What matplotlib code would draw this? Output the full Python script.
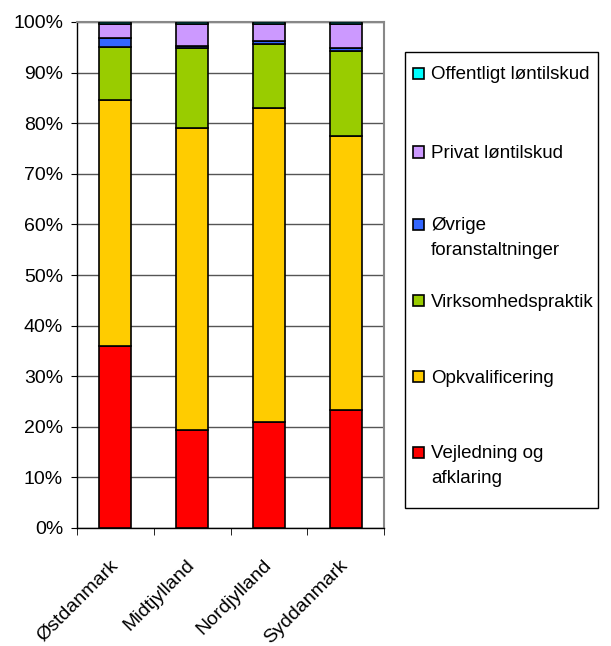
import matplotlib
matplotlib.use("Agg")
import matplotlib.pyplot as plt
from matplotlib.patches import Rectangle
import matplotlib.transforms as mtransforms
import numpy as np

plt.rcParams['font.family'] = ['Liberation Sans', 'DejaVu Sans']

regions = ["Østdanmark", "Midtjylland", "Nordjylland", "Syddanmark"]
series = ["Vejledning og\nafklaring", "Opkvalificering", "Virksomhedspraktik",
          "Øvrige\nforanstaltninger", "Privat løntilskud", "Offentligt løntilskud"]
vejledning = [36.0, 19.4, 20.9, 23.3]
opkvalificering = [48.6, 59.6, 62.1, 54.2]
virksomhedspraktik = [10.5, 15.8, 12.6, 16.8]
ovrige = [1.7, 0.5, 0.7, 0.6]
privat = [2.8, 4.3, 3.3, 4.7]
offentligt = [0.4, 0.4, 0.4, 0.4]
colors = ["#FF0000", "#FFCC00", "#99CC00", "#3366FF", "#CC99FF", "#00FFFF"]

values = [vejledning, opkvalificering, virksomhedspraktik, ovrige, privat, offentligt]

W, H = 611, 646
fig = plt.figure(figsize=(W/100, H/100), dpi=100)
ax = fig.add_axes([77/W, 1-528/H, (384-77)/W, (528-22)/H])

x = np.arange(len(regions))
bottom = np.zeros(len(regions))
for vals, col, lab in zip(values, colors, series):
    ax.bar(x, vals, bottom=bottom, width=0.42, color=col, edgecolor='black',
           linewidth=1.2, label=lab, zorder=3)
    bottom += np.array(vals)

ax.set_xlim(-0.5, 3.5)
ax.set_ylim(0, 100)
ax.set_yticks(np.arange(0, 101, 10))
ax.set_yticklabels([f"{v}%" for v in range(0, 101, 10)], fontsize=14)
ax.yaxis.grid(True, color='#555555', linewidth=1.0, zorder=0)
ax.set_axisbelow(True)

ax.set_xticks(x)
ax.set_xticklabels(regions, rotation=45, ha='right', va='top', rotation_mode='anchor', fontsize=14)
ax.tick_params(axis='x', which='major', length=0, pad=12)
offset = mtransforms.ScaledTranslation(-6/100, -12/100, fig.dpi_scale_trans)
for lbl in ax.get_xticklabels():
    lbl.set_transform(lbl.get_transform() + offset)
ax.set_xticks(np.arange(-0.5, 4, 1), minor=True)
ax.tick_params(axis='x', which='minor', length=5, direction='out', color='black')
ax.tick_params(axis='y', length=4, direction='out', color='black', pad=6)

for s in ['top', 'right']:
    ax.spines[s].set_color('#888888')
    ax.spines[s].set_linewidth(1.5)
for s in ['left', 'bottom']:
    ax.spines[s].set_color('black')
    ax.spines[s].set_linewidth(1.0)

# Legend (drawn in figure pixel coordinates, top entry first)
def fx(px):
    return px / W

def fy(py):
    return 1 - py / H

fig.patches.append(Rectangle((fx(405), fy(508)), fx(598) - fx(405), fy(52) - fy(508),
                             transform=fig.transFigure, facecolor='white',
                             edgecolor='black', linewidth=1.0, zorder=1))
entry_y = [73, 152, 224, 301, 377, 452]
for yy, col, lab in zip(entry_y, colors[::-1], series[::-1]):
    fig.patches.append(Rectangle((fx(413), fy(yy + 5.5)), fx(424) - fx(413), fy(yy - 5.5) - fy(yy + 5.5),
                                 transform=fig.transFigure, facecolor=col,
                                 edgecolor='black', linewidth=1.2, zorder=2))
    fig.text(fx(431), fy(yy - 7), lab, fontsize=13.5, ha='left', va='top',
             linespacing=1.64, zorder=3)

fig.savefig("out.png", dpi=100)
